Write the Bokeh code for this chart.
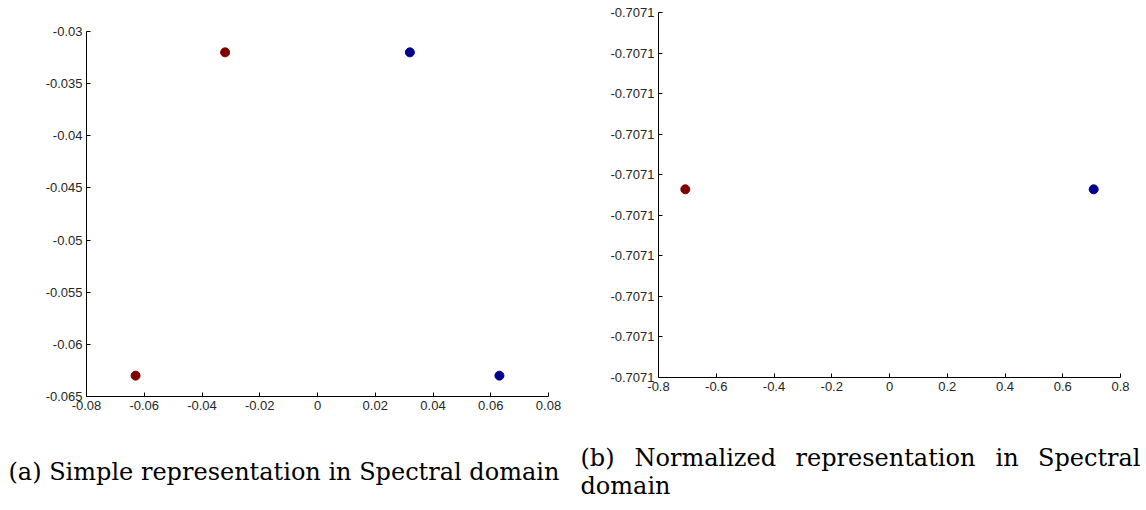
from bokeh.plotting import figure
from bokeh.models import FixedTicker, CustomJSTickFormatter, Range1d, Label
from bokeh.embed import file_html
from bokeh.resources import INLINE

# ---- data: panel (a) ----
a_red_x = [-0.032, -0.063]
a_red_y = [-0.032, -0.063]
a_blue_x = [0.032, 0.063]
a_blue_y = [-0.032, -0.063]
a_x_ticks = [-0.08, -0.06, -0.04, -0.02, 0, 0.02, 0.04, 0.06, 0.08]
a_y_ticks = [-0.065, -0.06, -0.055, -0.05, -0.045, -0.04, -0.035, -0.03]

# ---- data: panel (b) ----
b_red_x = [-0.7071]
b_red_y = [-0.7071067812]
b_blue_x = [0.7071]
b_blue_y = [-0.7071067812]
b_x_ticks = [-0.8, -0.6, -0.4, -0.2, 0, 0.2, 0.4, 0.6, 0.8]
b_y_step = 2e-8
b_y_top = -0.7071066940
b_y_ticks = [b_y_top - b_y_step * i for i in range(9, -1, -1)]

caption_a = "(a) Simple representation in Spectral domain"
caption_b_line1 = ["(b)", "Normalized", "representation", "in", "Spectral"]
caption_b_line2 = "domain"

RED = "#800000"
BLUE = "#00008F"
TICK_FONT = "Liberation Sans"
CAP_FONT = "DejaVu Serif"
CAP_SIZE = "24px"


def style(p, xt, yt, yfmt):
    p.grid.visible = False
    p.outline_line_color = None
    for ax in (p.xaxis[0], p.yaxis[0]):
        ax.axis_line_color = "black"
        ax.axis_line_width = 1
        ax.major_tick_in = 4
        ax.major_tick_out = 0
        ax.minor_tick_line_color = None
        ax.major_tick_line_color = "black"
        ax.major_label_text_font = TICK_FONT
        ax.major_label_text_font_size = "13px"
        ax.major_label_text_color = "#262626"
    p.xaxis[0].ticker = FixedTicker(ticks=xt)
    p.yaxis[0].ticker = FixedTicker(ticks=yt)
    p.xaxis[0].formatter = CustomJSTickFormatter(code="return String(+tick.toFixed(4));")
    p.yaxis[0].formatter = CustomJSTickFormatter(code=yfmt)
    p.xaxis[0].major_label_standoff = 4
    p.yaxis[0].major_label_standoff = 4


# ---- panel (a) ----
p1 = figure(width=573, height=430, frame_width=462, frame_height=365,
            x_range=Range1d(-0.08, 0.08), y_range=Range1d(-0.065, -0.03),
            output_backend="svg", toolbar_location=None,
            min_border_left=86, min_border_right=25, min_border_top=31, min_border_bottom=34)
style(p1, a_x_ticks, a_y_ticks, "return String(+tick.toFixed(4));")
p1.scatter(a_red_x, a_red_y, size=9, color=RED)
p1.scatter(a_blue_x, a_blue_y, size=9, color=BLUE)
p1.styles = {"position": "absolute", "left": "0px", "top": "0px"}

# ---- panel (b) ----
p2 = figure(width=573, height=420, frame_width=462, frame_height=365,
            x_range=Range1d(-0.8, 0.8), y_range=Range1d(b_y_ticks[0], b_y_ticks[-1]),
            output_backend="svg", toolbar_location=None,
            min_border_left=85, min_border_right=26, min_border_top=12, min_border_bottom=43)
style(p2, b_x_ticks, b_y_ticks, "return tick.toFixed(4);")
p2.scatter(b_red_x, b_red_y, size=9, color=RED)
p2.scatter(b_blue_x, b_blue_y, size=9, color=BLUE)
p2.styles = {"position": "absolute", "left": "573px", "top": "0px"}

# ---- captions strip (pixel coordinates of the page) ----
p3 = figure(width=1146, height=80, x_range=Range1d(0, 1146), y_range=Range1d(510, 430),
            output_backend="svg", toolbar_location=None,
            min_border_left=0, min_border_right=0, min_border_top=0, min_border_bottom=0)
p3.axis.visible = False
p3.grid.visible = False
p3.outline_line_color = None
p3.background_fill_color = None
p3.border_fill_color = None
p3.styles = {"position": "absolute", "left": "0px", "top": "430px"}


def caption(text, x, baseline, align="left"):
    p3.add_layout(Label(x=x, y=baseline, text=text,
                        text_font=CAP_FONT, text_font_size=CAP_SIZE, text_color="black",
                        text_baseline="alphabetic", text_align=align))


caption(caption_a, 8, 471)
word_x = [580, 634, 795, 995, 1140]
word_align = ["left", "left", "left", "left", "right"]
for w, xw, al in zip(caption_b_line1, word_x, word_align):
    caption(w, xw, 457, al)
caption(caption_b_line2, 580, 485)

open("out.html", "w").write(file_html([p1, p2, p3], INLINE))
